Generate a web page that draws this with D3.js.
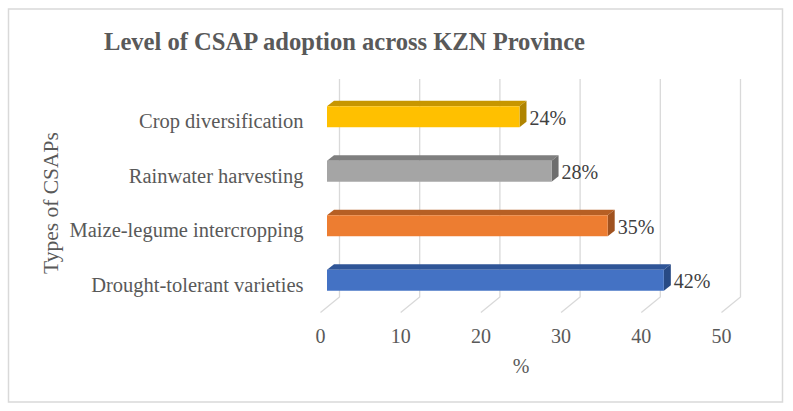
<!DOCTYPE html>
<html>
<head>
<meta charset="utf-8">
<script src="https://cdn.jsdelivr.net/npm/d3@7"></script>
<style>
  body { margin: 0; background: #fff; }
  text { font-family: "Liberation Serif", "Times New Roman", serif; }
</style>
</head>
<body>
<div id="chart"></div>
<script>
// data
var categories = ["Crop diversification", "Rainwater harvesting", "Maize-legume intercropping", "Drought-tolerant varieties"];
var values = [24, 28, 35, 42];
var frontColors = ["#FFC000", "#A5A5A5", "#ED7D31", "#4472C4"];
var topColors = ["#C79600", "#7F7F7F", "#B65F24", "#2F5597"];
var sideColors = ["#B08400", "#6E6E6E", "#A0521F", "#284A85"];
var ticks = [0, 10, 20, 30, 40, 50];

var width = 793, height = 411;

var svg = d3.select("#chart")
  .append("svg")
    .attr("width", width)
    .attr("height", height);

// chart border
svg.append("rect")
    .attr("x", 8.5).attr("y", 9)
    .attr("width", 774).attr("height", 393)
    .attr("fill", "#fff")
    .attr("stroke", "#d9d9d9")
    .attr("stroke-width", 1.5);

// title
svg.append("text")
    .attr("x", 104)
    .attr("y", 50)
    .attr("font-size", 26)
    .attr("font-weight", "bold")
    .attr("fill", "#595959")
    .attr("textLength", 481)
    .attr("lengthAdjust", "spacingAndGlyphs")
    .text("Level of CSAP adoption across KZN Province");

// 3D geometry: back wall, floor front edge, bar front plane
var backX0 = 339.5, wallTop = 79, wallBottom = 297;
var floorDx = -19, floorDy = 15.5;
var barX0 = 327;
var depthDx = 7, depthDy = 5.5;

var x = d3.scaleLinear().domain([0, 50]).range([0, 401]);

var y = d3.scaleBand()
    .domain(categories)
    .range([89.5, 307.5])
    .paddingInner(0.615)
    .paddingOuter(0.3075);

// gridlines on back wall + floor
var grid = svg.append("g").attr("stroke", "#d9d9d9").attr("stroke-width", 1.3).attr("fill", "none");
grid.selectAll("path")
  .data(ticks)
  .enter()
  .append("path")
    .attr("d", function(d) {
      var bx = backX0 + x(d);
      return "M" + bx + "," + wallTop + "L" + bx + "," + wallBottom +
             "L" + (bx + floorDx) + "," + (wallBottom + floorDy);
    });

// tick labels along floor front
svg.append("g")
  .selectAll("text")
  .data(ticks)
  .enter()
  .append("text")
    .attr("x", function(d) { return backX0 + floorDx + x(d); })
    .attr("y", 343)
    .attr("text-anchor", "middle")
    .attr("font-size", 20)
    .attr("fill", "#595959")
    .text(function(d) { return d; });

// bars
var bars = svg.append("g")
  .selectAll("g")
  .data(categories)
  .enter()
  .append("g");

bars.append("path")
    .attr("fill", function(d, i) { return topColors[i]; })
    .attr("d", function(d, i) {
      var x1 = barX0, x2 = barX0 + x(values[i]), yt = y(d);
      return "M" + x1 + "," + yt + "L" + (x1 + depthDx) + "," + (yt - depthDy) +
             "L" + (x2 + depthDx) + "," + (yt - depthDy) + "L" + x2 + "," + yt + "Z";
    });

bars.append("path")
    .attr("fill", function(d, i) { return sideColors[i]; })
    .attr("d", function(d, i) {
      var x2 = barX0 + x(values[i]), yt = y(d), yb = y(d) + y.bandwidth();
      return "M" + x2 + "," + yt + "L" + (x2 + depthDx) + "," + (yt - depthDy) +
             "L" + (x2 + depthDx) + "," + (yb - depthDy) + "L" + x2 + "," + yb + "Z";
    });

bars.append("rect")
    .attr("x", barX0)
    .attr("y", function(d) { return y(d); })
    .attr("width", function(d, i) { return x(values[i]); })
    .attr("height", y.bandwidth())
    .attr("fill", function(d, i) { return frontColors[i]; });

// value labels
bars.append("text")
    .attr("x", function(d, i) { return barX0 + x(values[i]) + depthDx + 3; })
    .attr("y", function(d) { return y(d) + y.bandwidth() / 2 + 8; })
    .attr("font-size", 20)
    .attr("fill", "#404040")
    .text(function(d, i) { return values[i] + "%"; });

// category labels
svg.append("g")
  .selectAll("text")
  .data(categories)
  .enter()
  .append("text")
    .attr("x", 303.5)
    .attr("y", function(d) { return y(d) + y.bandwidth() / 2 + 11.5; })
    .attr("text-anchor", "end")
    .attr("font-size", 20.5)
    .attr("fill", "#595959")
    .text(function(d) { return d; });

// axis titles
svg.append("text")
    .attr("transform", "translate(58,203) rotate(-90)")
    .attr("text-anchor", "middle")
    .attr("font-size", 21.5)
    .attr("fill", "#595959")
    .text("Types of CSAPs");

svg.append("text")
    .attr("x", 521)
    .attr("y", 373)
    .attr("text-anchor", "middle")
    .attr("font-size", 20)
    .attr("fill", "#595959")
    .text("%");
</script>
</body>
</html>
